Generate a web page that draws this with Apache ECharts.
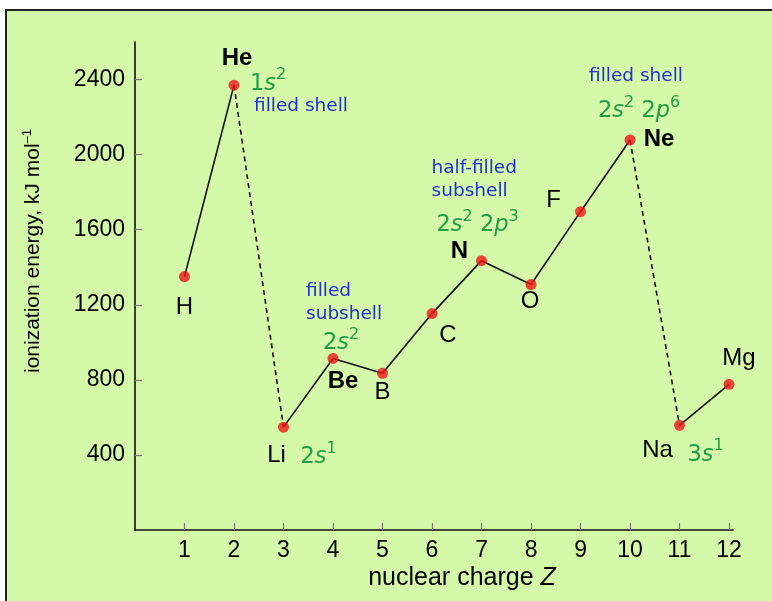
<!DOCTYPE html>
<html><head><meta charset="utf-8">
<script src="https://cdn.jsdelivr.net/npm/echarts@6/dist/echarts.min.js"></script>
<style>
html,body{margin:0;padding:0;background:#fff;overflow:hidden;}
#frame{position:absolute;left:5px;top:9px;width:790px;height:620px;background:#d4f9a9;border-left:2px solid #222;border-top:2px solid #222;}
#main{position:absolute;left:0;top:0;width:772px;height:601px;}
</style></head><body>
<div id="frame"></div><div id="main"></div>
<script>
// ---- data ----
const Z = [1, 2, 3, 4, 5, 6, 7, 8, 9, 10, 11, 12];
const symbols = ['H', 'He', 'Li', 'Be', 'B', 'C', 'N', 'O', 'F', 'Ne', 'Na', 'Mg'];
const energy = [1350, 2370, 548, 914, 835, 1153, 1435, 1308, 1696, 2078, 558, 776];
const boldSymbols = ['He', 'Be', 'N', 'Ne'];
const xTicks = [1, 2, 3, 4, 5, 6, 7, 8, 9, 10, 11, 12];
const yTicks = [400, 800, 1200, 1600, 2000, 2400];
const solidRuns = [[0, 1], [2, 9], [10, 11]];
const dashedRuns = [[1, 2], [9, 10]];
const configText = { He: '1s2', Li: '2s1', Be: '2s2', N: '2s2 2p3', Ne: '2s2 2p6', Na: '3s1' };
const noteText = { He: 'filled shell', Be: 'filled\nsubshell', N: 'half-filled\nsubshell', Ne: 'filled shell' };

// ---- layout (pixel offsets from each point) ----
const labelOffset = {
  H: [0, 31], He: [3, -27], Li: [-7, 28], Be: [10, 23], B: [0, 19], C: [16, 22],
  N: [-22, -9], O: [-1, 17], F: [-27, -11], Ne: [29, -1], Na: [-22, 25], Mg: [10, -26]
};
const configOffset = { He: [16, -4], Li: [17, 28], Be: [-10, -18], N: [-45, -38], Ne: [-32, -31], Na: [8, 27] };
const noteOffset = { He: [20, 21], Be: [-27, -56], N: [-50, -81], Ne: [-41, -64] };

const GREEN = '#1f9e45', BLUE = '#2230d6', RED = '#ee1515';
const SANS = '"Liberation Sans", Arial, sans-serif';
const VERD = '"DejaVu Sans", Verdana, sans-serif';

function pts(a, b) { const out = []; for (let i = a; i <= b; i++) out.push([Z[i], energy[i]]); return out; }

const series = [];
solidRuns.forEach(r => series.push({ type: 'line', data: pts(r[0], r[1]), symbol: 'none', silent: true, z: 2,
  lineStyle: { color: '#111', width: 1.6 } }));
dashedRuns.forEach(r => series.push({ type: 'line', data: pts(r[0], r[1]), symbol: 'none', silent: true, z: 2,
  lineStyle: { color: '#111', width: 1.6, type: [5, 4] } }));
series.push({
  type: 'scatter', z: 3, symbolSize: 11, itemStyle: { color: RED },
  data: Z.map((z, i) => ({
    value: [z, energy[i]],
    label: {
      show: true, position: 'inside', offset: labelOffset[symbols[i]], formatter: symbols[i],
      fontFamily: SANS, fontSize: 24, color: '#000', textBorderWidth: 0, opacity: 1,
      fontWeight: boldSymbols.includes(symbols[i]) ? 'bold' : 'normal'
    }
  }))
});

const chart = echarts.init(document.getElementById('main'), null, { renderer: 'canvas' });
chart.setOption({
  backgroundColor: 'transparent',
  animation: false,
  grid: { left: 135, right: 39, top: 42, bottom: 71 },
  xAxis: {
    type: 'value', min: 0, max: 12.08,
    axisLine: { show: true, lineStyle: { color: '#111', width: 1.6 } },
    axisTick: { show: true, inside: true, length: 7, customValues: xTicks, lineStyle: { color: '#777', width: 1.2 } },
    axisLabel: { customValues: xTicks, fontFamily: SANS, fontSize: 23, color: '#000', margin: 9, formatter: v => String(v) },
    splitLine: { show: false }
  },
  yAxis: {
    type: 'value', min: 0, max: 2600,
    axisLine: { show: true, lineStyle: { color: '#111', width: 1.6 } },
    axisTick: { show: true, inside: true, length: 7, customValues: yTicks, lineStyle: { color: '#777', width: 1.2 } },
    axisLabel: { customValues: yTicks, fontFamily: SANS, fontSize: 23, color: '#000', margin: 10, formatter: v => String(v) },
    splitLine: { show: false }
  },
  series: series
});

function orbitalRich(str) {
  return str.split(' ').map(o => {
    const m = o.match(/^(\d)([a-z])(\d)$/);
    return '{n|' + m[1] + '}{i|' + m[2] + '}{sup|' + m[3] + '}';
  }).join('{n| }');
}
const graphics = [];
Object.keys(configText).forEach(sym => {
  const i = symbols.indexOf(sym);
  const p = chart.convertToPixel({ gridIndex: 0 }, [Z[i], energy[i]]);
  const o = configOffset[sym];
  graphics.push({
    type: 'text', x: p[0] + o[0], y: p[1] + o[1], z: 10,
    style: {
      text: orbitalRich(configText[sym]), align: 'left', verticalAlign: 'middle',
      rich: {
        n: { fontFamily: VERD, fontSize: 22.5, fill: GREEN, lineHeight: 28, verticalAlign: 'bottom' },
        i: { fontFamily: VERD, fontSize: 22.5, fill: GREEN, fontStyle: 'italic', lineHeight: 28, verticalAlign: 'bottom' },
        sup: { fontFamily: VERD, fontSize: 16, fill: GREEN, lineHeight: 17, verticalAlign: 'top' }
      }
    }
  });
});
Object.keys(noteText).forEach(sym => {
  const i = symbols.indexOf(sym);
  const p = chart.convertToPixel({ gridIndex: 0 }, [Z[i], energy[i]]);
  const o = noteOffset[sym];
  graphics.push({
    type: 'text', x: p[0] + o[0], y: p[1] + o[1], z: 10,
    style: { text: noteText[sym], align: 'left', verticalAlign: 'middle', fontFamily: VERD, fontSize: 18.5,
      lineHeight: 23, fill: BLUE }
  });
});
// axis names
graphics.push({
  type: 'text', x: 462, y: 578, z: 10,
  style: {
    text: '{a|nuclear charge }{b|Z}', align: 'center', verticalAlign: 'middle',
    rich: { a: { fontFamily: SANS, fontSize: 25, fill: '#000' }, b: { fontFamily: SANS, fontSize: 25, fontStyle: 'italic', fill: '#000' } }
  }
});
graphics.push({
  type: 'text', x: 32, y: 251, rotation: Math.PI / 2, z: 10,
  style: {
    text: '{a|ionization energy, kJ mol}{s|–1}', align: 'center', verticalAlign: 'middle',
    rich: {
      a: { fontFamily: SANS, fontSize: 21, fill: '#000', lineHeight: 23, verticalAlign: 'bottom' },
      s: { fontFamily: SANS, fontSize: 13, fill: '#000', lineHeight: 14, verticalAlign: 'top' }
    }
  }
});
chart.setOption({ graphic: graphics });
</script>
</body></html>
